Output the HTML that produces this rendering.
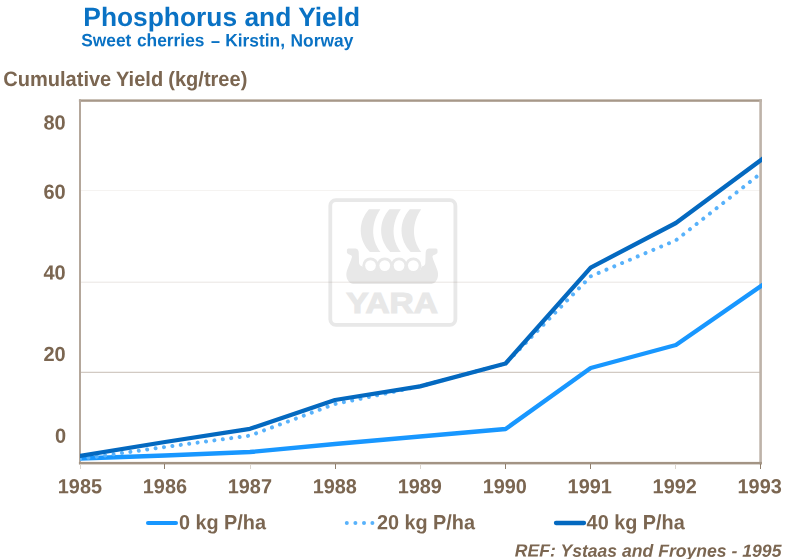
<!DOCTYPE html>
<html><head><meta charset="utf-8">
<style>
html,body{margin:0;padding:0;background:#fff;}
body{width:786px;height:559px;position:relative;overflow:hidden;font-family:"Liberation Sans",sans-serif;}
.t{position:absolute;left:0;top:0;white-space:nowrap;font-weight:bold;line-height:1;transform-origin:0 0;}
svg{position:absolute;left:0;top:0;}
.nd{display:inline-block;transform:translate(0.035em,0.025em) scaleX(0.93);}
</style></head><body>
<svg width="786" height="559" viewBox="0 0 786 559">
<!-- logo -->
<g id="logo" fill="#e8e8e8" stroke="none">
<rect x="330.3" y="200.2" width="125.1" height="124.6" rx="5.5" fill="none" stroke="#e8e8e8" stroke-width="3.8"/>
<path d="M369.0,209.3 L380.4,209.3 C371.5,222 370.2,239 380.4,251.9 L369.9,251.9 C358.2,240 357.6,222 369.0,209.3 Z"/><path d="M389.4,209.3 L400.8,209.3 C391.9,222 390.6,239 400.8,251.9 L390.3,251.9 C378.6,240 378.0,222 389.4,209.3 Z"/><path d="M409.8,209.3 L421.2,209.3 C412.3,222 411.0,239 421.2,251.9 L410.7,251.9 C399.0,240 398.4,222 409.8,209.3 Z"/>
<path d="M364.00,270.00 L362.80,266.40 L361.98,266.25 L361.25,266.01 L360.63,265.68 L360.11,265.25 L359.69,264.73 L359.38,264.11 L359.16,263.40 L359.05,262.60 L358.75,253.00 L358.65,251.92 L358.43,250.99 L358.10,250.20 L357.64,249.55 L357.06,249.05 L356.36,248.69 L355.54,248.47 L354.60,248.40 L349.00,248.40 L348.51,248.43 L348.08,248.53 L347.72,248.68 L347.42,248.90 L347.20,249.18 L347.03,249.53 L346.93,249.93 L346.90,250.40 L346.90,252.00 L346.93,252.38 L347.01,252.74 L347.14,253.06 L347.32,253.35 L347.56,253.61 L347.86,253.84 L348.20,254.03 L348.60,254.20 L351.00,255.30 L351.30,255.49 L351.54,255.71 L351.72,255.95 L351.85,256.23 L351.92,256.53 L351.94,256.86 L351.90,257.21 L351.80,257.60 L351.48,258.60 L351.12,259.63 L350.73,260.70 L350.31,261.80 L349.87,262.92 L349.43,264.05 L348.97,265.19 L348.53,266.33 L348.09,267.47 L347.67,268.60 L347.27,269.71 L346.90,270.80 L346.61,271.99 L346.43,273.20 L346.36,274.41 L346.41,275.62 L346.57,276.80 L346.85,277.95 L347.25,279.05 L347.76,280.08 L348.39,281.04 L349.14,281.90 L350.01,282.66 L351.00,283.30 L351.33,283.46 L351.66,283.61 L352.00,283.73 L352.35,283.82 L352.70,283.90 L353.06,283.96 L353.43,283.99 L353.80,284.00 L392.20,284.00 L392.20,284.00 L430.60,284.00 L430.97,283.99 L431.34,283.96 L431.70,283.90 L432.05,283.82 L432.40,283.73 L432.74,283.61 L433.07,283.46 L433.40,283.30 L434.39,282.66 L435.26,281.90 L436.01,281.04 L436.64,280.08 L437.15,279.05 L437.55,277.95 L437.83,276.80 L437.99,275.62 L438.04,274.41 L437.97,273.20 L437.79,271.99 L437.50,270.80 L437.13,269.71 L436.73,268.60 L436.31,267.47 L435.87,266.33 L435.43,265.19 L434.97,264.05 L434.53,262.92 L434.09,261.80 L433.67,260.70 L433.28,259.63 L432.92,258.60 L432.60,257.60 L432.50,257.21 L432.46,256.86 L432.48,256.53 L432.55,256.23 L432.68,255.95 L432.86,255.71 L433.10,255.49 L433.40,255.30 L435.80,254.20 L436.20,254.03 L436.54,253.84 L436.84,253.61 L437.08,253.35 L437.26,253.06 L437.39,252.74 L437.47,252.38 L437.50,252.00 L437.50,250.40 L437.47,249.93 L437.37,249.53 L437.20,249.18 L436.98,248.90 L436.68,248.68 L436.32,248.53 L435.89,248.43 L435.40,248.40 L429.80,248.40 L428.86,248.47 L428.04,248.69 L427.34,249.05 L426.76,249.55 L426.30,250.20 L425.97,250.99 L425.75,251.92 L425.65,253.00 L425.35,262.60 L425.24,263.40 L425.02,264.11 L424.71,264.73 L424.29,265.25 L423.77,265.68 L423.15,266.01 L422.42,266.25 L421.60,266.40 L420.40,270.00 Z"/>
<rect x="364" y="266" width="56.4" height="6"/>
<circle cx="370.5" cy="265.5" r="8.1"/><circle cx="384.75" cy="265.5" r="8.1"/><circle cx="399.05" cy="265.5" r="8.1"/><circle cx="413.3" cy="265.5" r="8.1"/>
<circle cx="370.5" cy="265.6" r="5.35" fill="#fff"/><circle cx="384.75" cy="265.6" r="5.35" fill="#fff"/><circle cx="399.05" cy="265.6" r="5.35" fill="#fff"/><circle cx="413.3" cy="265.6" r="5.35" fill="#fff"/>
<text x="0" y="0" transform="translate(346.2,312.5) scale(1.17,1)" font-family="Liberation Sans, sans-serif" font-weight="bold" font-size="28.6" fill="#e8e8e8" stroke="#e8e8e8" stroke-width="1.1" stroke-linejoin="miter">YARA</text>
</g>
<!-- gridlines -->
<rect x="81" y="190" width="679" height="1" fill="rgba(130,105,80,0.08)"/>
<rect x="81" y="281.7" width="679" height="1" fill="rgba(145,125,110,0.2)"/>
<rect x="81" y="371.8" width="679" height="1" fill="rgba(145,125,107,0.5)"/>
<!-- frame -->
<rect x="78.9" y="99.4" width="683" height="2.4" fill="#a79889"/>
<rect x="79.0" y="99.3" width="2.0" height="365" fill="#b4a79b"/>
<rect x="759.3" y="99.3" width="2.6" height="365" fill="#beb3a9"/>
<rect x="78.9" y="461.9" width="683" height="2.5" fill="#a39484"/>
<!-- ticks -->
<g fill="#8f7e6c"><rect x="164" y="464" width="1" height="5"/><rect x="335" y="464" width="1" height="5"/><rect x="505" y="464" width="1" height="5"/><rect x="590" y="464" width="1" height="5"/><rect x="760" y="464" width="1" height="5"/></g>
<g fill="#dcd5cd"><rect x="80" y="464" width="1" height="5"/><rect x="250" y="464" width="1" height="5"/><rect x="420" y="464" width="1" height="5"/><rect x="675" y="464" width="1" height="5"/></g>
<!-- data -->
<clipPath id="cp"><rect x="80" y="95" width="681.9" height="372"/></clipPath>
<g clip-path="url(#cp)">
<polyline fill="none" stroke="#1897ff" stroke-width="4.4" stroke-linejoin="round" points="76,458.64 80,458.50 165,455.50 250,452.00 335,444.00 420,436.50 505.6,429.00 590.7,368.00 675.9,345.00 761,286.00 765,283.23"/>
<polyline fill="none" stroke="#58b2fb" stroke-width="4.0" stroke-linecap="round" stroke-dasharray="0.01 8.47" stroke-linejoin="round" points="80,459 165,447 250,435.6 335,404 420,386.3 505.6,363.5 590.7,276.3 675.9,240.3 761,173.2"/>
<polyline fill="none" stroke="#0469c0" stroke-width="4.3" stroke-linejoin="round" points="76,456.66 80,456.00 165,442.00 250,428.80 335,400.00 420,386.30 505.6,363.50 590.7,267.60 675.9,223.00 761,160.00 765,157.04"/>
</g>
<!-- legend -->
<path d="M148 523h28" stroke="#1897ff" stroke-width="4.1" stroke-linecap="round" fill="none"/>
<g fill="#58b2fb"><circle cx="346.8" cy="522.9" r="2"/><circle cx="355.4" cy="522.9" r="2"/><circle cx="364" cy="522.9" r="2"/><circle cx="372.4" cy="522.9" r="2"/></g>
<path d="M556 523h28" stroke="#0469c0" stroke-width="4.3" stroke-linecap="round" fill="none"/>
</svg>
<div style="filter:opacity(1);position:absolute;left:0;top:0;width:786px;height:559px;">
<div class="t" style="font-size:26.5px;color:#0a72c4;transform:matrix(0.995,0.0005,0,1,83.30,3.90);">Phosphorus and Yield</div>
<div class="t" style="font-size:17.8px;color:#0a72c4;transform:matrix(0.977,0.0005,0,1,81.20,32.30);word-spacing:0.7px;">Sweet cherries <span class="nd">–</span> Kirstin, Norway</div>
<div class="t" style="font-size:20.8px;color:#7b6651;transform:matrix(0.964,0.0005,0,1,3.20,69.00);word-spacing:-0.5px;">Cumulative Yield (kg/tree)</div>
<div class="t" style="font-size:20.5px;color:#7b6651;transform:matrix(0.975,0.0005,0,1,43.40,112.60);">80</div>
<div class="t" style="font-size:20.5px;color:#7b6651;transform:matrix(0.975,0.0005,0,1,43.40,181.80);">60</div>
<div class="t" style="font-size:20.5px;color:#7b6651;transform:matrix(0.975,0.0005,0,1,43.40,262.50);">40</div>
<div class="t" style="font-size:20.5px;color:#7b6651;transform:matrix(0.975,0.0005,0,1,43.40,343.90);">20</div>
<div class="t" style="font-size:20.5px;color:#7b6651;transform:matrix(0.975,0.0005,0,1,54.90,425.80);">0</div>
<div class="t" style="font-size:20.3px;color:#7b6651;transform:matrix(0.98,0.0005,0,1,57.80,476.25);">1985</div>
<div class="t" style="font-size:20.3px;color:#7b6651;transform:matrix(0.98,0.0005,0,1,142.77,476.25);">1986</div>
<div class="t" style="font-size:20.3px;color:#7b6651;transform:matrix(0.98,0.0005,0,1,227.74,476.25);">1987</div>
<div class="t" style="font-size:20.3px;color:#7b6651;transform:matrix(0.98,0.0005,0,1,312.71,476.25);">1988</div>
<div class="t" style="font-size:20.3px;color:#7b6651;transform:matrix(0.98,0.0005,0,1,397.68,476.25);">1989</div>
<div class="t" style="font-size:20.3px;color:#7b6651;transform:matrix(0.98,0.0005,0,1,482.65,476.25);">1990</div>
<div class="t" style="font-size:20.3px;color:#7b6651;transform:matrix(0.98,0.0005,0,1,567.62,476.25);">1991</div>
<div class="t" style="font-size:20.3px;color:#7b6651;transform:matrix(0.98,0.0005,0,1,652.59,476.25);">1992</div>
<div class="t" style="font-size:20.3px;color:#7b6651;transform:matrix(0.98,0.0005,0,1,737.56,476.25);">1993</div>
<div class="t" style="font-size:20.6px;color:#7b6651;transform:matrix(0.963,0.0005,0,1,178.90,512.15);">0 kg P/ha</div>
<div class="t" style="font-size:20.6px;color:#7b6651;transform:matrix(0.963,0.0005,0,1,376.90,512.15);">20 kg P/ha</div>
<div class="t" style="font-size:20.6px;color:#7b6651;transform:matrix(0.963,0.0005,0,1,586.60,512.15);">40 kg P/ha</div>
<div class="t" style="font-size:17.6px;color:#7b6651;transform:matrix(1.0,0.0005,0,1,514.80,542.60);font-style:italic;">REF: Ystaas and Froynes - 1995</div>
</div></body></html>
